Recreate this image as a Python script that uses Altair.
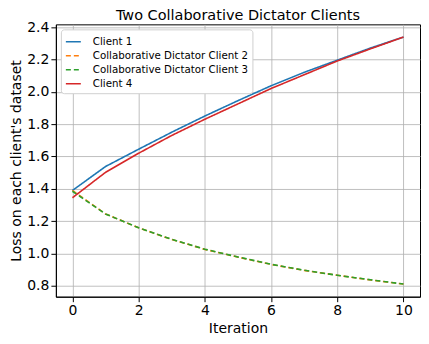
import altair as alt
import pandas as pd

iterations = [0, 1, 2, 3, 4, 5, 6, 7, 8, 9, 10]
client1 = [1.39, 1.538, 1.645, 1.75, 1.85, 1.945, 2.037, 2.12, 2.195, 2.27, 2.338]
client2 = [1.39, 1.245, 1.159, 1.087, 1.026, 0.978, 0.933, 0.896, 0.866, 0.837, 0.812]
client3 = [1.385, 1.245, 1.159, 1.088, 1.027, 0.979, 0.934, 0.897, 0.866, 0.838, 0.812]
client4 = [1.345, 1.502, 1.62, 1.73, 1.83, 1.925, 2.02, 2.105, 2.19, 2.265, 2.338]

names = ["Client 1", "Collaborative Dictator Client 2",
         "Collaborative Dictator Client 3", "Client 4"]
colors = ["#1f77b4", "#ff7f0e", "#2ca02c", "#d62728"]
dashes = [[1, 0], [5, 3], [5, 3], [1, 0]]

rows = []
for name, vals in zip(names, [client1, client2, client3, client4]):
    for it, v in zip(iterations, vals):
        rows.append({"Iteration": it, "Loss": v, "Series": name})
df = pd.DataFrame(rows)

font = "DejaVu Sans"

chart = alt.Chart(df).mark_line(strokeWidth=1.6, clip=True).encode(
    x=alt.X("Iteration:Q", title="Iteration",
            scale=alt.Scale(domain=[-0.5, 10.5], nice=False, zero=False),
            axis=alt.Axis(values=[0, 2, 4, 6, 8, 10], format="d")),
    y=alt.Y("Loss:Q", title="Loss on each client's dataset",
            scale=alt.Scale(domain=[0.7335, 2.4165], nice=False, zero=False),
            axis=alt.Axis(values=[0.8, 1.0, 1.2, 1.4, 1.6, 1.8, 2.0, 2.2, 2.4],
                          format=".1f", titlePadding=3)),
    color=alt.Color("Series:N", scale=alt.Scale(domain=names, range=colors),
                    legend=alt.Legend(title=None)),
    strokeDash=alt.StrokeDash("Series:N", scale=alt.Scale(domain=names, range=dashes),
                              legend=alt.Legend(title=None)),
    order="Iteration:Q",
).properties(
    width=365, height=273,
    title=alt.TitleParams("Two Collaborative Dictator Clients", font=font, fontSize=14.5,
                          fontWeight="normal", color="black", offset=-3),
    autosize=alt.AutoSizeParams(type="none"),
    padding={"left": 48, "top": 16, "right": 1, "bottom": 40},
).configure_view(
    stroke="black", strokeWidth=1
).configure_axis(
    labelFont=font, titleFont=font, labelFontSize=14, titleFontSize=14,
    titleFontWeight="normal", labelColor="black", titleColor="black",
    grid=True, gridColor="#b0b0b0", gridWidth=0.8,
    domainColor="black", tickColor="black", tickSize=5,
    labelPadding=2,
).configure_legend(
    orient="top-left", labelFont=font, labelFontSize=10.3, labelColor="black",
    symbolType="stroke", symbolSize=225, symbolStrokeWidth=1.6,
    fillColor="white", strokeColor="#d0d0d0", padding=4, cornerRadius=3,
    rowPadding=0, offset=5, labelLimit=300, labelOffset=11,
)

chart.save("out.html", embed_options={"renderer": "svg", "actions": False})
